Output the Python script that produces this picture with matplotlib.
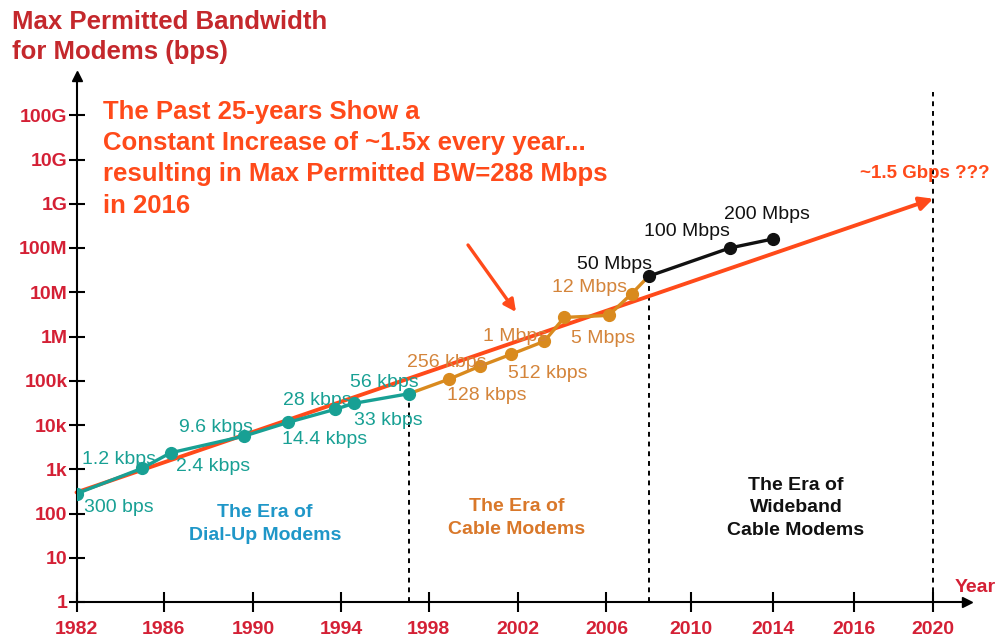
import numpy as np
import matplotlib
matplotlib.use('Agg')
import matplotlib.pyplot as plt

plt.rcParams['font.family'] = ['Liberation Sans', 'DejaVu Sans']

# dial-up modems
dialup_years = [1982.0, 1985.0, 1986.3, 1989.6, 1991.6, 1993.7, 1994.6, 1997.1]
dialup_bps = [280, 1050, 2350, 5600, 11500, 22500, 31000, 51000]
dialup_labels = ['300 bps', '1.2 kbps', '2.4 kbps', '9.6 kbps', '14.4 kbps',
                 '28 kbps', '33 kbps', '56 kbps']

# cable modems (starts at the last dial-up point, ends at the first wideband one)
cable_years = [1997.1, 1998.9, 2000.3, 2001.7, 2003.2, 2004.1, 2006.1, 2007.2, 2008.0]
cable_bps = [51000, 108000, 213000, 395000, 780000, 2.7e6, 3.0e6, 9.3e6, 2.3e7]
cable_labels = ['', '128 kbps', '256 kbps', '512 kbps', '1 Mbps', '', '5 Mbps',
                '12 Mbps', '']

# wideband cable modems
wide_years = [2008.0, 2011.9, 2014.0]
wide_bps = [2.3e7, 1.0e8, 1.6e8]
wide_labels = ['50 Mbps', '100 Mbps', '200 Mbps']

trend_years = [1982, 2020]
trend_bps = [300, 1.3e9]

era_years = [1997.1, 2008.0, 2020]

tick_years = [1982, 1986, 1990, 1994, 1998, 2002, 2006, 2010, 2014, 2016, 2020]
ytick_vals = [10.0 ** k for k in range(12)]
ytick_labels = ['1', '10', '100', '1k', '10k', '100k', '1M', '10M', '100M',
                '1G', '10G', '100G']

# the year axis of the original is not evenly spaced: knots of a piecewise scale
knot_years = [1978, 1982, 1986, 1990, 1994, 1998, 2002, 2006, 2010, 2014, 2016, 2020, 2024]
knot_pos = [-10, 77, 164.3, 253.3, 341.7, 429, 517.9, 606.7, 690.9, 773, 854, 933.3, 1012.3]


def fwd(x):
    return np.interp(x, knot_years, knot_pos)


def inv(p):
    return np.interp(p, knot_pos, knot_years)


W, H = 1000, 641


def fx(px):
    return px / W


def fy(py):
    return 1 - py / H


TEAL = '#18a094'
ORANGE = '#d98a1e'
ORANGE_TXT = '#d4843a'
RED = '#ff4a1a'
TICK_RED = '#d42035'

fig = plt.figure(figsize=(10, 6.41), dpi=100)
ax = fig.add_axes([fx(76.5), fy(602), (967 - 76.5) / W, (602 - 76) / H])
ax.set_xscale('function', functions=(fwd, inv))
ax.set_yscale('log')
ax.set_xlim(1982, inv(967))
ax.set_ylim(1, 10 ** ((602 - 76) / 44.25))

for s in ['top', 'right']:
    ax.spines[s].set_visible(False)
for s in ['left', 'bottom']:
    ax.spines[s].set_linewidth(1.5)
ax.plot(1, 0, '>k', ms=7, transform=ax.transAxes, clip_on=False)
ax.plot(0, 1, '^k', ms=7, transform=ax.transAxes, clip_on=False)

ax.set_xticks(tick_years)
ax.set_xticklabels([str(y) for y in tick_years])
ax.set_yticks(ytick_vals)
ax.set_yticklabels(ytick_labels)
ax.minorticks_off()
ax.yaxis.set_minor_locator(plt.NullLocator())
ax.tick_params(axis='x', direction='inout', length=14, width=1.5, pad=7,
               labelsize=14, labelcolor=TICK_RED)
ax.tick_params(axis='y', direction='inout', length=11, width=1.5, pad=1,
               labelsize=14, labelcolor=TICK_RED)
for lab in ax.get_xticklabels() + ax.get_yticklabels():
    lab.set_fontweight('bold')

# era boundaries
era_tops = [dialup_bps[-1], wide_bps[0], 3.3e11]
for x, top in zip(era_years, era_tops):
    ax.vlines(x, 1, top, colors='black', linestyles=(0, (2.5, 2.5)), lw=1.4, zorder=1)

# trend arrow
ax.annotate('', xy=(trend_years[1], trend_bps[1]), xytext=(trend_years[0], trend_bps[0]),
            arrowprops=dict(arrowstyle='-|>', color=RED, lw=2.8, mutation_scale=20,
                            shrinkA=0, shrinkB=0), zorder=2)
ax.annotate('~1.5 Gbps ???', xy=(trend_years[1], trend_bps[1]), xytext=(-73, 25),
            textcoords='offset pixels', ha='left', va='center', color=RED,
            fontsize=13.5, fontweight='bold')

ax.plot(dialup_years, dialup_bps, color=TEAL, lw=2.4, marker='o', ms=8.5, zorder=4)
ax.plot(cable_years, cable_bps, color=ORANGE, lw=2.4, marker='o', ms=8.5,
        markevery=slice(1, -1), zorder=3)
ax.plot(wide_years, wide_bps, color='#111111', lw=2.4, marker='o', ms=8.5, zorder=4)

dialup_off = [(7, -14), (-60, 9), (5, -14), (-65, 9), (-6, -17), (-52, 9), (0, -17), (-59, 11)]
cable_off = [None, (-2, -16), (-73, 4), (-3, -19), (-61, 5), None, (-38, -23), (-80, 6), None]
wide_off = [(-72, 12), (-86, 16), (-49, 24)]

for xs, ys, labs, offs, col in [
        (dialup_years, dialup_bps, dialup_labels, dialup_off, TEAL),
        (cable_years, cable_bps, cable_labels, cable_off, ORANGE_TXT),
        (wide_years, wide_bps, wide_labels, wide_off, '#111111')]:
    for x, y, lab, off in zip(xs, ys, labs, offs):
        if not lab:
            continue
        ax.annotate(lab, xy=(x, y), xytext=off, textcoords='offset pixels',
                    ha='left', va='center', color=col, fontsize=14, zorder=5)

# pointer arrow to the trend line
ax.annotate('', xy=(516, H - 312), xytext=(468, H - 245), xycoords='figure pixels',
            textcoords='figure pixels',
            arrowprops=dict(arrowstyle='-|>', color=RED, lw=2.4, mutation_scale=18,
                            shrinkA=0, shrinkB=0))

fig.text(fx(12), fy(10), 'Max Permitted Bandwidth\nfor Modems (bps)', ha='left', va='top',
         fontsize=18.5, fontweight='bold', color='#c4282c', linespacing=1.3)
fig.text(fx(103), fy(100), 'The Past 25-years Show a\nConstant Increase of ~1.5x every year...\n'
         'resulting in Max Permitted BW=288 Mbps\nin 2016', ha='left', va='top',
         fontsize=18.5, fontweight='bold', color=RED, linespacing=1.38)

fig.text(fx(265), fy(524), 'The Era of\nDial-Up Modems', ha='center', va='center',
         fontsize=14, fontweight='bold', color='#1f97c8', linespacing=1.45)
fig.text(fx(517), fy(518), 'The Era of\nCable Modems', ha='center', va='center',
         fontsize=14, fontweight='bold', color='#d9782a', linespacing=1.45)
fig.text(fx(796), fy(508), 'The Era of\nWideband\nCable Modems', ha='center', va='center',
         fontsize=14, fontweight='bold', color='#111111', linespacing=1.45)
fig.text(fx(955), fy(588), 'Year', ha='left', va='center', fontsize=14,
         fontweight='bold', color=TICK_RED)

fig.savefig('out.png', dpi=100)
